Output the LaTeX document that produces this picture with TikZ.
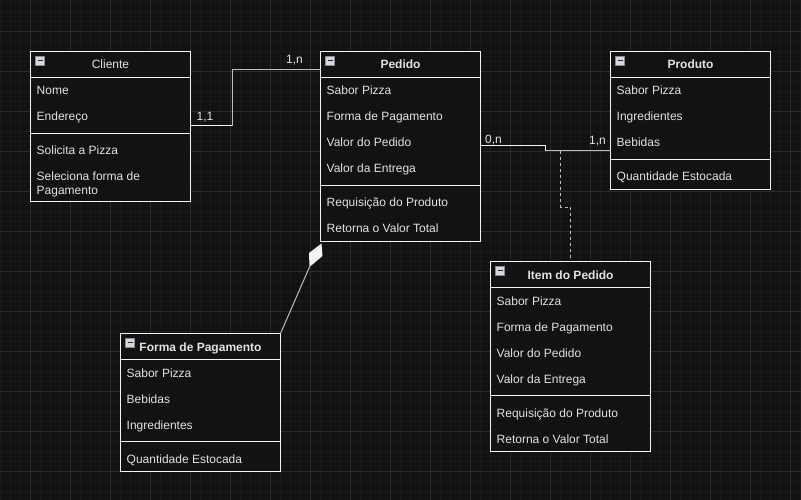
\documentclass[tikz,border=0pt]{standalone}
\usepackage{fontspec}
\setmainfont{Liberation Sans}
\usetikzlibrary{calc}
\definecolor{bg}{HTML}{121212}
\definecolor{gridmin}{HTML}{1A1A1A}
\definecolor{gridmaj}{HTML}{2A2A2A}
\definecolor{txt}{HTML}{E2E2E2}
\definecolor{lin}{HTML}{F4F4F4}
\definecolor{conngray}{HTML}{BDBDBD}
\definecolor{iconfill}{HTML}{D6D6DC}
\definecolor{iconedge}{HTML}{8A8A95}
\newcommand{\umlbox}[6]{% #1 name, #2 x, #3 y, #4 height, #5 separator offset, #6 header text (with font)
  \node[box, minimum height=#4pt] (#1) at (#2,#3) {};
  \draw[sepline] ({#2},{#3+26}) -- ++(160,0);
  \draw[sepline] ({#2},{#3+#5}) -- ++(160,0);
  \draw[draw=iconedge, fill=iconfill, line width=0.6pt] ({#2+5},{#3+4.5}) rectangle ++(9,9);
  \draw[draw=black!85, line width=1.2pt] ({#2+7},{#3+9}) -- ++(5,0);
  \node[head] (#1-title) at ({#2+80},{#3+17.5}) {#6};
}
\begin{document}
\begin{tikzpicture}[x=1pt,y=-1pt,
  box/.style={draw=lin, line width=1pt, fill=bg, minimum width=160pt, anchor=north west, inner sep=0pt, outer sep=0pt},
  sepline/.style={draw=lin, line width=1pt},
  attr/.style={anchor=base west, text=txt, font=\fontsize{12}{13.5}\selectfont, inner sep=0pt},
  head/.style={anchor=base, text=txt, font=\fontsize{12}{14}\selectfont, inner sep=0pt},
  lbl/.style={anchor=base west, text=txt, font=\fontsize{12}{14}\selectfont, inner sep=0pt},
  conn/.style={draw=conngray, line width=1pt},
  connw/.style={draw=lin, line width=1pt},
  dashconn/.style={draw=conngray, line width=1pt, dash pattern=on 3pt off 3pt}
]
\useasboundingbox (0,0) rectangle (801,500);
\fill[bg] (0,0) rectangle (801,500);
% grid
\foreach \gx in {0,10,...,800} \draw[gridmin, line width=0.6pt] (\gx,0) -- (\gx,500);
\foreach \gy in {1,11,...,500} \draw[gridmin, line width=0.6pt] (0,\gy) -- (801,\gy);
\foreach \gx in {30,70,...,800} \draw[gridmaj, line width=0.8pt] (\gx,0) -- (\gx,500);
\foreach \gy in {31,71,...,500} \draw[gridmaj, line width=0.8pt] (0,\gy) -- (801,\gy);

% Cliente
\umlbox{cliente}{30.5}{51.5}{150}{82}{Cliente}
\node[attr] at (36.5,95) {Nome};
\node[attr] at (36.5,121) {Endereço};
\node[attr] at (36.5,155) {Solicita a Pizza};
\node[attr] at (36.5,181) {Seleciona forma de};
\node[attr] at (36.5,194.5) {Pagamento};

% Pedido
\umlbox{pedido}{320.5}{51.5}{190}{134}{\bfseries Pedido}
\node[attr] at (326.5,95) {Sabor Pizza};
\node[attr] at (326.5,121) {Forma de Pagamento};
\node[attr] at (326.5,147) {Valor do Pedido};
\node[attr] at (326.5,173) {Valor da Entrega};
\node[attr] at (326.5,207) {Requisição do Produto};
\node[attr] at (326.5,233) {Retorna o Valor Total};

% Produto
\umlbox{produto}{610.5}{51.5}{138}{108}{\bfseries Produto}
\node[attr] at (616.5,95) {Sabor Pizza};
\node[attr] at (616.5,121) {Ingredientes};
\node[attr] at (616.5,147) {Bebidas};
\node[attr] at (616.5,181) {Quantidade Estocada};

% Item do Pedido
\umlbox{item}{490.5}{261.5}{190}{134}{\bfseries Item do Pedido}
\node[attr] at (496.5,305) {Sabor Pizza};
\node[attr] at (496.5,331) {Forma de Pagamento};
\node[attr] at (496.5,357) {Valor do Pedido};
\node[attr] at (496.5,383) {Valor da Entrega};
\node[attr] at (496.5,417) {Requisição do Produto};
\node[attr] at (496.5,443) {Retorna o Valor Total};

% Forma de Pagamento
\umlbox{forma}{120.5}{333.5}{138}{108}{\bfseries Forma de Pagamento}
\node[attr] at (126.5,377) {Sabor Pizza};
\node[attr] at (126.5,403) {Bebidas};
\node[attr] at (126.5,429) {Ingredientes};
\node[attr] at (126.5,463) {Quantidade Estocada};

% Cliente -- Pedido
\coordinate (cp1) at ([yshift=-74.5pt]cliente.north east);
\coordinate (cp2) at ([yshift=-18.5pt]pedido.north west);
\draw[conn] (cp1) -| (232,70) -- (cp2);
\draw[connw] (cp1) -- (232,126);
\node[lbl] (l11) at (196.5,121) {1,1};
\node[lbl] (l1n) at (286,64) {1,n};

% Pedido -- Produto
\coordinate (pp1) at ([yshift=-94.5pt]pedido.north east);
\coordinate (pp2) at ([yshift=-99.5pt]produto.north west);
\draw[connw] (pp1) -- (545.5,146) -- (545.5,151);
\draw[conn] (545.5,151) -- (pp2);
\node[lbl] (l0n) at (485,143.5) {0,n};
\node[lbl] (l1n2) at (589,145) {1,n};

% dashed association to Item do Pedido
\coordinate (dj) at (560.5,151);
\coordinate (it) at ([xshift=80pt]item.north west);
\draw[dashconn] (dj) -- (560.5,207) -- (570.5,207) -- (it);

% composition Forma de Pagamento -- Pedido
\coordinate (dtip) at (321.5,243.5);
\coordinate (dl) at (309,253);
\coordinate (dr) at (322.5,256);
\coordinate (dtail) at (309.5,267);
\fill[lin] (dtip) -- (dr) -- (dtail) -- (dl) -- cycle;
\draw[conn] (dtail) -- (forma.north east);
\end{tikzpicture}
\end{document}
